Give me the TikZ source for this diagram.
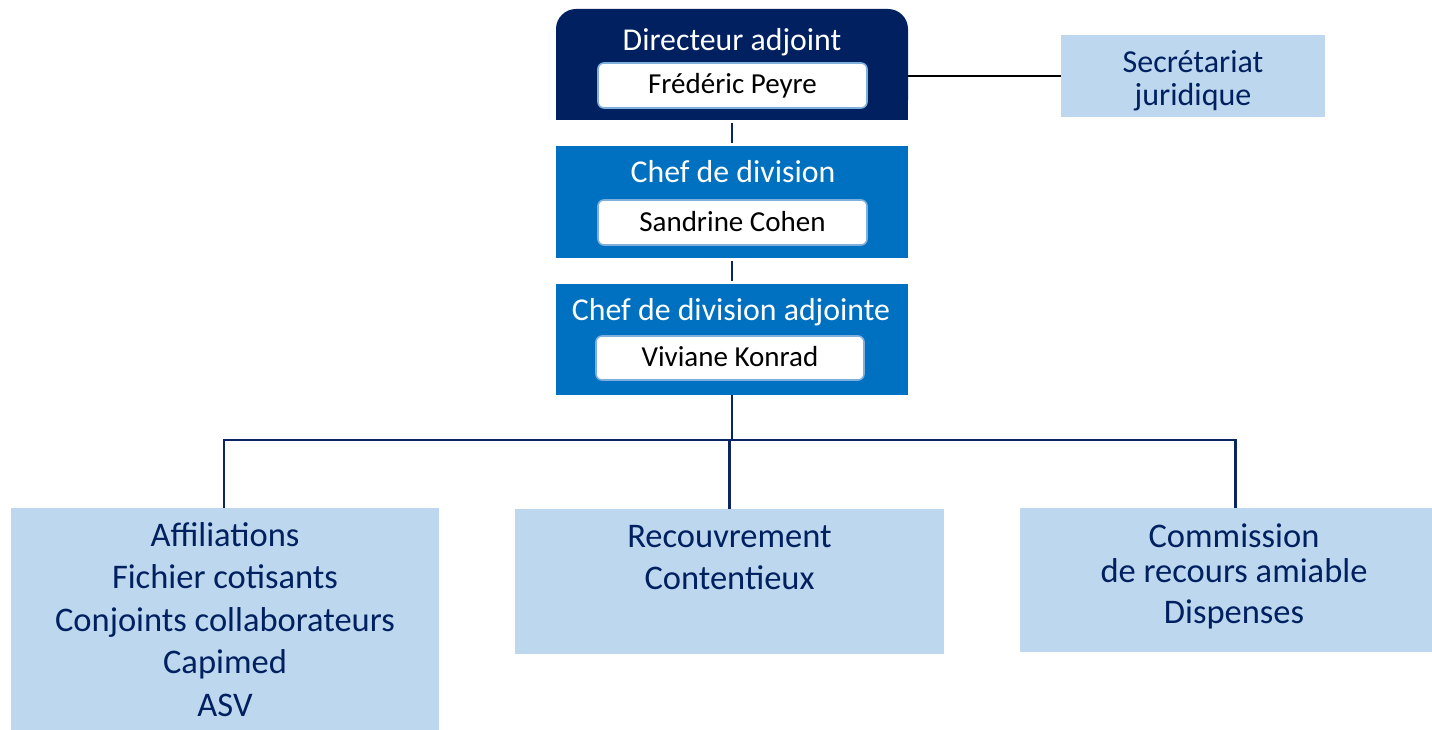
\documentclass[tikz,border=0pt]{standalone}
\usepackage{fontspec}
\setmainfont{Carlito}
\definecolor{navy}{HTML}{002060}
\definecolor{midblue}{HTML}{0070C0}
\definecolor{pale}{HTML}{BDD7EE}
\definecolor{rim}{HTML}{7FB0DD}
\definecolor{linenavy}{HTML}{0B2463}
\begin{document}
\begin{tikzpicture}[x=1pt,y=-1pt,
  box/.style={inner sep=0pt,outer sep=0pt,minimum width=#1},
  namebox/.style={fill=white,draw=rim,line width=1.6pt,rounded corners=6pt,inner sep=0pt,outer sep=0pt,minimum width=268pt,minimum height=44pt},
  titletxt/.style={anchor=base,text=white,font=\fontsize{31.8}{36}\selectfont,inner sep=0pt},
  nametxt/.style={anchor=base,text=black,font=\fontsize{29}{33}\selectfont,inner sep=0pt},
  unittxt/.style={anchor=base,text=navy,font=\fontsize{34.5}{38}\selectfont,inner sep=0pt},
  sectxt/.style={anchor=base,text=navy,font=\fontsize{32}{36}\selectfont,inner sep=0pt},
  conn/.style={draw=linenavy,line width=2.6pt},
]
\useasboundingbox (0,0) rectangle (1432,730);
\fill[white] (0,0) rectangle (1432,730);

% Directeur adjoint
\node[box=352pt,minimum height=111pt,fill=navy,rounded corners=20pt] (dir) at (732,64.5) {};
\fill[navy] (dir.west) rectangle (dir.south east);
\node[namebox,minimum width=269pt,minimum height=45pt] (dirname) at (732.5,85.5) {};
\node[titletxt] (dirt) at (732,51) {Directeur adjoint};
\node[nametxt] (dirn) at (732.5,94) {Frédéric Peyre};

% Chef de division
\node[box=352pt,minimum height=112pt,fill=midblue] (chef) at (732,202) {};
\node[namebox,minimum width=269pt,minimum height=45pt] (chefname) at (732.5,222.5) {};
\node[titletxt] (cheft) at (733,183) {Chef de division};
\node[nametxt] (chefn) at (732.5,231) {Sandrine Cohen};

% Chef de division adjointe
\node[box=352pt,minimum height=111pt,fill=midblue] (adj) at (732,339.5) {};
\node[namebox] (adjname) at (730,358) {};
\node[titletxt] (adjt) at (731,320) {Chef de division adjointe};
\node[nametxt] (adjn) at (730,366.5) {Viviane Konrad};

% Secretariat
\node[box=264pt,minimum height=82pt,fill=pale] (sec) at (1193,76) {};
\node[sectxt] (sect1) at (1193,72.5) {Secrétariat};
\node[sectxt] (sect2) at (1193,106) {juridique};

% Bottom units
\node[box=428pt,minimum height=222pt,fill=pale] (left) at (225,619) {};
\node[unittxt] (l1) at (225,546) {Affiliations};
\node[unittxt] (l2) at (225,588.5) {Fichier cotisants};
\node[unittxt] (l3) at (225,631) {Conjoints collaborateurs};
\node[unittxt] (l4) at (225,673.5) {Capimed};
\node[unittxt] (l5) at (225,716) {ASV};

\node[box=429pt,minimum height=145pt,fill=pale] (mid) at (729.5,581.5) {};
\node[unittxt] (m1) at (729.5,547) {Recouvrement};
\node[unittxt] (m2) at (729.5,589) {Contentieux};

\node[box=412pt,minimum height=144pt,fill=pale] (right) at (1226,580) {};
\node[unittxt] (r1) at (1234,547) {Commission};
\node[unittxt] (r2) at (1234,582) {de recours amiable};
\node[unittxt] (r3) at (1234,623.5) {Dispenses};

% connectors
\draw[conn] ([yshift=-3pt]dir.south) -- ([yshift=3pt]chef.north);
\draw[conn] ([yshift=-3pt]chef.south) -- ([yshift=3pt]adj.north);
\draw[black,line width=2pt] ([yshift=-11.5pt]dir.east) -- (sec.west);
\coordinate (hub) at (732,440);
\draw[conn] (adj.south) -- (hub);
\draw[conn] (hub) -| ([xshift=-1pt]left.north);
\draw[conn] (hub) -| ([xshift=9.5pt]right.north);
\draw[conn] (mid.north) |- (hub);
\end{tikzpicture}
\end{document}
